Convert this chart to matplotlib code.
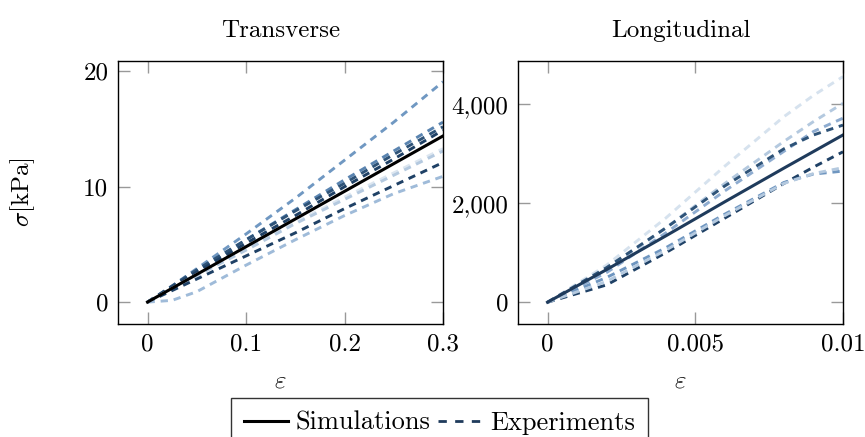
import numpy as np
import matplotlib.pyplot as plt

plt.rcParams['font.family'] = ['cmr10', 'DejaVu Serif']
plt.rcParams['mathtext.fontset'] = 'cm'
plt.rcParams['axes.formatter.use_mathtext'] = True
plt.rcParams['font.size'] = 18

# Transverse test: strain and stress [kPa]
eps_t = [0, 0.025, 0.05, 0.1, 0.15, 0.2, 0.25, 0.3]
sim_t = [0, 1.2, 2.4, 4.8, 7.2, 9.6, 12.0, 14.4]
exp_t = [
    [0, 1.4, 2.9, 5.9, 9.0, 12.3, 15.6, 19.1],
    [0, 1.35, 2.7, 5.4, 8.0, 10.6, 13.1, 15.6],
    [0, 1.4, 2.8, 5.4, 7.9, 10.3, 12.8, 15.2],
    [0, 1.3, 2.6, 5.1, 7.5, 10.0, 12.4, 14.9],
    [0, 1.2, 2.4, 4.7, 6.9, 9.1, 11.2, 13.3],
    [0, 1.15, 2.3, 4.5, 6.8, 8.9, 11.0, 13.1],
    [0, 1.0, 2.0, 4.0, 6.0, 8.1, 10.1, 12.1],
    [0, 0.15, 0.9, 3.2, 5.4, 7.5, 9.4, 10.9],
]
colors_t = ['#7098c2', '#5a84b0', '#2e5378', '#1f4166',
            '#dce6f0', '#b4c9df', '#1f4166', '#9fbbd9']

# Longitudinal test
eps_l = [0, 0.002, 0.004, 0.006, 0.008, 0.009, 0.01]
sim_l = [0, 660, 1340, 2030, 2710, 3045, 3380]
exp_l = [
    [0, 750, 1700, 2750, 3750, 4180, 4560],
    [0, 650, 1500, 2400, 3250, 3650, 4020],
    [0, 600, 1400, 2250, 3050, 3450, 3720],
    [0, 700, 1500, 2350, 3100, 3380, 3580],
    [0, 350, 1000, 1700, 2400, 2730, 3040],
    [0, 500, 1100, 1780, 2420, 2590, 2650],
    [0, 420, 1050, 1750, 2400, 2600, 2720],
]
colors_l = ['#d6e2ee', '#b4c9df', '#8eacd0', '#2e5378',
            '#1f4166', '#6f96c0', '#b4c9df']

fig = plt.figure(figsize=(8.65, 4.37), dpi=100)
ax1 = fig.add_axes([118 / 865, 1 - 324 / 437, 325 / 865, 263 / 437])
ax2 = fig.add_axes([518 / 865, 1 - 324 / 437, 325 / 865, 263 / 437])

dash = (0, (2.5, 2))
for y, c in zip(exp_t, colors_t):
    ax1.plot(eps_t, y, color=c, lw=2.1, linestyle=dash)
ax1.plot(eps_t, sim_t, color='black', lw=2.2)

for y, c in zip(exp_l, colors_l):
    ax2.plot(eps_l, y, color=c, lw=2.1, linestyle=dash)
ax2.plot(eps_l, sim_l, color='#1f3b5c', lw=2.2)

ax1.set_xlim(-0.03, 0.3)
ax1.set_ylim(-1.9, 20.9)
ax1.set_xticks([0, 0.1, 0.2, 0.3])
ax1.set_xticklabels(['0', '0.1', '0.2', '0.3'])
ax1.set_yticks([0, 10, 20])
ax1.set_yticklabels(['0', '10', '20'])

ax2.set_xlim(-0.001, 0.01)
ax2.set_ylim(-440, 4875)
ax2.set_xticks([0, 0.005, 0.01])
ax2.set_xticklabels(['0', '0.005', '0.01'])
ax2.set_yticks([0, 2000, 4000])
ax2.set_yticklabels(['0', '2,000', '4,000'])

for ax, title in [(ax1, 'Transverse'), (ax2, 'Longitudinal')]:
    ax.tick_params(direction='in', length=8.5, width=1, color='#999999',
                   top=True, right=True, pad=7, labelsize=18)
    for s in ax.spines.values():
        s.set_linewidth(1)
    ax.set_title(title, pad=17, fontsize=18)
    ax.set_xlabel(r'$\varepsilon$', fontsize=18)
    ax.xaxis.set_label_coords(0.5, -0.175)

ax1.set_ylabel(r'$\sigma$[kPa]', fontsize=18)
ax1.yaxis.set_label_coords(-0.25, 0.5)

h1, = ax1.plot([], [], color='black', lw=2.2)
h2, = ax1.plot([], [], color='#1f3b5c', lw=2, linestyle=(0, (3, 3)))
leg = fig.legend([h1, h2], ['Simulations', 'Experiments'], ncol=2,
                 loc='upper center', bbox_to_anchor=(439.5 / 865, 1 - 398 / 437),
                 frameon=True, fancybox=False, edgecolor='black',
                 fontsize=19, handlelength=1.65, handletextpad=0.3,
                 columnspacing=0.3, borderpad=0.5, borderaxespad=0)
leg.get_frame().set_linewidth(1)

fig.savefig('out.png', dpi=100)
